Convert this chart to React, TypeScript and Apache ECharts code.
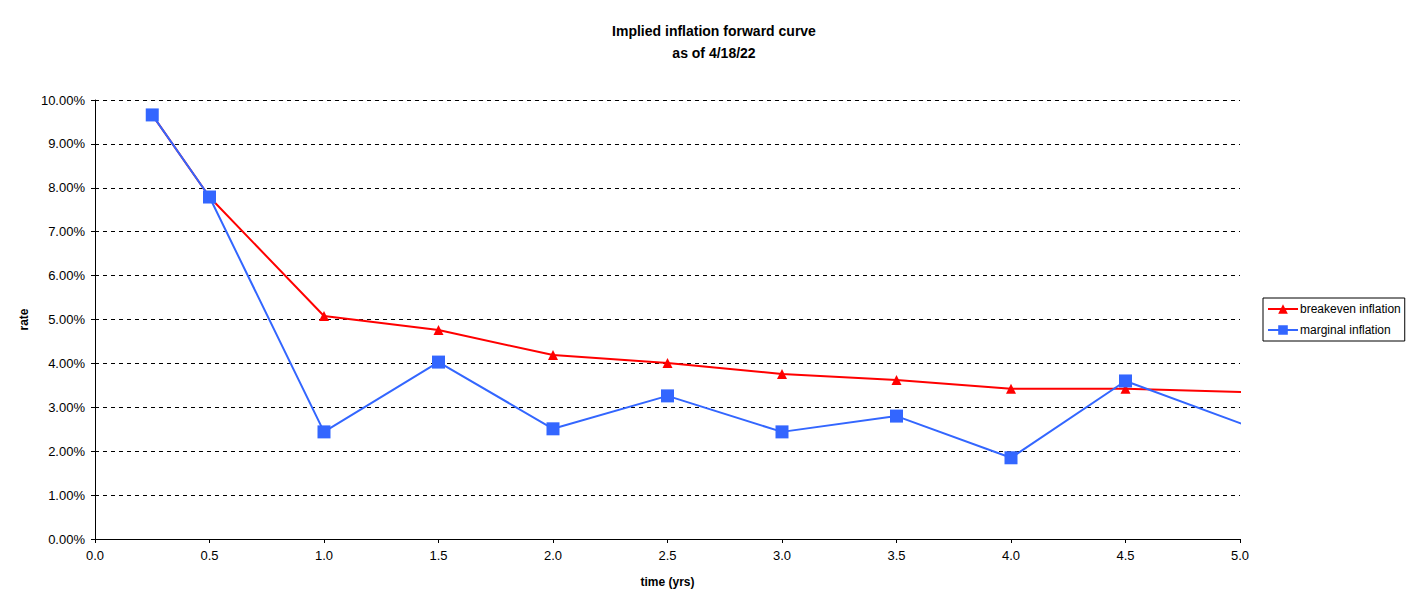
import React, { useEffect, useRef } from "react";
import * as echarts from "echarts";

const timesBreakeven = [0.25, 0.5, 1.0, 1.5, 2.0, 2.5, 3.0, 3.5, 4.0, 4.5, 5.5];
const breakevenInflation = [9.66, 7.79, 5.08, 4.76, 4.19, 4.01, 3.76, 3.62, 3.42, 3.42, 3.28];
const timesMarginal = [0.25, 0.5, 1.0, 1.5, 2.0, 2.5, 3.0, 3.5, 4.0, 4.5, 5.5];
const marginalInflation = [9.66, 7.79, 2.44, 4.03, 2.51, 3.26, 2.44, 2.8, 1.85, 3.6, 1.68];
const titleLines = ["Implied inflation forward curve", "as of 4/18/22"];

const FONT = "'Liberation Sans', Arial, sans-serif";

export default function App() {
  const ref = useRef<HTMLDivElement>(null);
  useEffect(() => {
    if (!ref.current) return;
    const chart = echarts.init(ref.current, null, { renderer: "svg" });
    chart.setOption({
      animation: false,
      backgroundColor: "#ffffff",
      textStyle: { fontFamily: FONT },
      title: {
        text: titleLines.join("\n"),
        left: 709,
        textAlign: "center",
        top: 15,
        textStyle: { fontFamily: FONT, fontSize: 14, fontWeight: "bold", color: "#000", lineHeight: 22 },
      },
      legend: {
        orient: "vertical",
        left: 1263,
        top: 298,
        padding: [5, 4, 5, 4],
        itemGap: 9,
        itemWidth: 30,
        itemHeight: 12,
        borderColor: "#000",
        borderWidth: 1,
        borderRadius: 0,
        textStyle: { fontFamily: FONT, fontSize: 12, color: "#000", padding: [0, 0, 0, -3] },
        data: ["breakeven inflation", "marginal inflation"],
      },
      grid: { left: 95, right: 178, top: 100, bottom: 70, containLabel: false },
      xAxis: {
        type: "value",
        min: 0,
        max: 5,
        interval: 0.5,
        name: "time (yrs)",
        nameLocation: "middle",
        nameGap: 37,
        nameTextStyle: { fontFamily: FONT, fontSize: 12, fontWeight: "bold", color: "#000" },
        axisLine: { show: true, onZero: false, lineStyle: { color: "#000", width: 1 } },
        axisTick: { show: true, length: 4, inside: false, lineStyle: { color: "#000" } },
        axisLabel: { fontFamily: FONT, fontSize: 13, color: "#000", margin: 10, formatter: (v: number) => v.toFixed(1) },
        splitLine: { show: false },
      },
      yAxis: {
        type: "value",
        min: 0,
        max: 10,
        interval: 1,
        name: "rate",
        nameLocation: "middle",
        nameRotate: 90,
        nameGap: 60,
        nameTextStyle: { fontFamily: FONT, fontSize: 12, fontWeight: "bold", color: "#000" },
        axisLine: { show: true, lineStyle: { color: "#000", width: 1 } },
        axisTick: { show: true, length: 4, lineStyle: { color: "#000" } },
        axisLabel: { fontFamily: FONT, fontSize: 13, color: "#000", margin: 10, formatter: (v: number) => v.toFixed(2) + "%" },
        splitLine: { show: true, lineStyle: { color: "#000", type: [4, 4], width: 1 } },
      },
      series: [
        {
          name: "breakeven inflation",
          type: "line",
          data: timesBreakeven.map((t, i) => [t, breakevenInflation[i]]),
          color: "#FF0000",
          lineStyle: { color: "#FF0000", width: 2 },
          itemStyle: { color: "#FF0000" },
          symbol: "triangle",
          symbolSize: 10,
          clip: true,
          z: 2,
        },
        {
          name: "marginal inflation",
          type: "line",
          data: timesMarginal.map((t, i) => [t, marginalInflation[i]]),
          color: "#3366FF",
          lineStyle: { color: "#3366FF", width: 2 },
          itemStyle: { color: "#3366FF" },
          symbol: "rect",
          symbolSize: 13,
          clip: true,
          z: 3,
        },
      ],
    });
    return () => chart.dispose();
  }, []);
  return <div ref={ref} style={{ position: "fixed", left: 0, top: 0, width: 1418, height: 609 }} />;
}
